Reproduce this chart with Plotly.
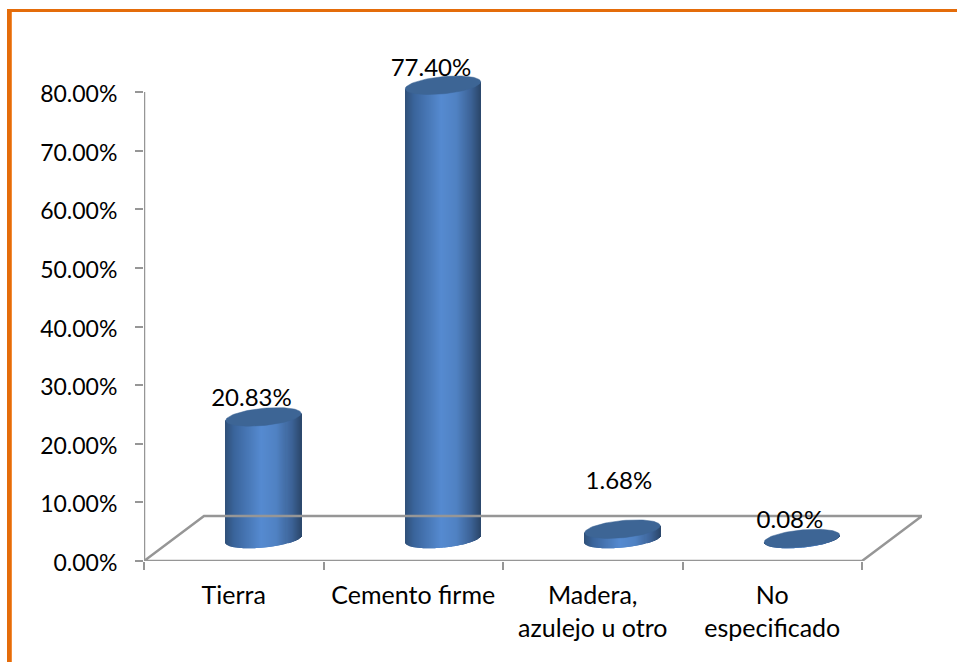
import numpy as np
import plotly.graph_objects as go

# ---- data ----
categories = ["Tierra", "Cemento firme", "Madera,<br>azulejo u otro", "No<br>especificado"]
values = [20.83, 77.40, 1.68, 0.08]
value_labels = ["20.83%", "77.40%", "1.68%", "0.08%"]
y_ticks = [0, 10, 20, 30, 40, 50, 60, 70, 80]
y_tick_labels = ["0.00%", "10.00%", "20.00%", "30.00%", "40.00%", "50.00%", "60.00%", "70.00%", "80.00%"]

# ---- layout geometry (window pixels) ----
W, H = 957, 662
PL, PR, PT, PB = 144, 922, 40, 561      # plot area
CAT_PX = 179.5                           # pixels per category
PCT_PX = 5.8625                          # pixels per percent unit
x_lo = -0.5
x_hi = x_lo + (PR - PL) / CAT_PX
y_hi = (PB - PT) / PCT_PX

# oblique depth of the floor and of the bars inside it
FLOOR_DX, FLOOR_DY = 60 / CAT_PX, 45 / PCT_PX
BAR_DX, BAR_DY = 29.7 / CAT_PX, 22 / PCT_PX
RX = 37.7 / CAT_PX                       # half width of a cylinder
RY = 8.6 / PCT_PX                        # half height of its ellipse
TILT = 3.5 / PCT_PX                      # ellipse rise from centre to right end

# label offsets from the cap centre (manual placement in the original)
LABEL_DX = [-12 / CAT_PX, -12 / CAT_PX, -3.5 / CAT_PX, -12 / CAT_PX]
LABEL_DY = [16.5 / PCT_PX, 15.5 / PCT_PX, 46 / PCT_PX, 16.5 / PCT_PX]

GREY = "#969696"
FONT = "Lato"
FS_Y = 23
FS_X = 25
FS_LABEL = 24


def shade(u):
    """Colour across the cylinder, u in 0..1."""
    stops = [(0, (47, 80, 120)), (0.12, (58, 100, 155)), (0.48, (85, 138, 208)),
             (0.68, (80, 130, 195)), (0.88, (60, 98, 150)), (1, (43, 72, 108))]
    for (a, ca), (b, cb) in zip(stops, stops[1:]):
        if u <= b:
            t = (u - a) / (b - a)
            c = [round(p + (q - p) * t) for p, q in zip(ca, cb)]
            return f"rgb({c[0]},{c[1]},{c[2]})"
    return "rgb(43,72,108)"


fig = go.Figure()

# floor
fx = [x_lo, x_lo + FLOOR_DX, 3.5 + FLOOR_DX, 3.5, x_lo]
fy = [0, FLOOR_DY, FLOOR_DY, 0, 0]
fig.add_trace(go.Scatter(x=fx, y=fy, mode="lines", line=dict(color=GREY, width=2.5),
                         hoverinfo="skip", showlegend=False))
# value axis line
fig.add_trace(go.Scatter(x=[x_lo, x_lo], y=[y_ticks[0], y_ticks[-1]], mode="lines",
                         line=dict(color=GREY, width=2.5), hoverinfo="skip", showlegend=False))

# cylinders: thin bars for the shaded wall, a filled ellipse for the cap
N = 75
for i, (cat, v) in enumerate(zip(categories, values)):
    cx = i + BAR_DX
    u = (np.arange(N) + 0.5) / N
    dx = (2 * u - 1) * RX
    s = 2 * u - 1
    lower = BAR_DY + TILT * s - RY * np.sqrt(1 - s ** 2)
    top = BAR_DY + v + TILT * s
    fig.add_trace(go.Bar(x=cx + dx, y=top - lower, base=lower, width=2 * RX / N * 1.15,
                         marker=dict(color=[shade(a) for a in u], line=dict(width=0)),
                         hoverinfo="skip", showlegend=False))
    t = np.linspace(0, 2 * np.pi, 90)
    fig.add_trace(go.Scatter(x=cx + RX * np.cos(t),
                             y=BAR_DY + v + TILT * np.cos(t) + RY * np.sin(t),
                             mode="lines", fill="toself", fillcolor="#3D6595",
                             line=dict(color="#3D6595", width=0.5),
                             hoverinfo="skip", showlegend=False))

# value labels
fig.add_trace(go.Scatter(
    x=[i + BAR_DX + d for i, d in enumerate(LABEL_DX)],
    y=[v + BAR_DY + d for v, d in zip(values, LABEL_DY)],
    mode="text", text=value_labels, textposition="middle center",
    textfont=dict(family=FONT, size=FS_LABEL, color="#000000"),
    hoverinfo="skip", showlegend=False, cliponaxis=False))


def px_x(p):
    return (p - PL) / (PR - PL)


def px_y(p):
    return (PB - p) / (PB - PT)


frame = [(7, 9, W, 12, "#E46C0A"), (7, 9, 11, H, "#E46C0A"), (11, 12, 12, H, "#F28C38")]
shapes = [dict(type="rect", xref="paper", yref="paper", x0=px_x(a), x1=px_x(c),
               y0=px_y(b), y1=px_y(d), fillcolor=col, line=dict(width=0), layer="above")
          for a, b, c, d, col in frame]

fig.update_layout(
    width=W, height=H, margin=dict(l=PL, r=W - PR, t=PT, b=H - PB, pad=0),
    paper_bgcolor="white", plot_bgcolor="white", barmode="overlay",
    showlegend=False, shapes=shapes,
    font=dict(family=FONT, size=FS_Y, color="#000000"),
    xaxis=dict(range=[x_lo, x_hi], tickvals=list(range(len(categories))), ticktext=categories,
               ticks="", showgrid=False, zeroline=False, showline=False,
               tickfont=dict(family=FONT, size=FS_X), ticklabelstandoff=17,
               minor=dict(tickvals=[-0.5, 0.5, 1.5, 2.5, 3.5], ticks="outside", ticklen=8,
                          tickwidth=2, tickcolor=GREY, showgrid=False)),
    yaxis=dict(range=[0, y_hi], tickvals=y_ticks, ticktext=y_tick_labels, ticks="outside",
               ticklen=8, tickwidth=2, tickcolor=GREY, showgrid=False, zeroline=False,
               showline=False, tickfont=dict(family=FONT, size=FS_Y),
               ticklabelstandoff=13, ticklabelshift=2),
)

fig.write_html("out.html", post_script="document.body.style.margin='0';",
               config={"displayModeBar": False})
